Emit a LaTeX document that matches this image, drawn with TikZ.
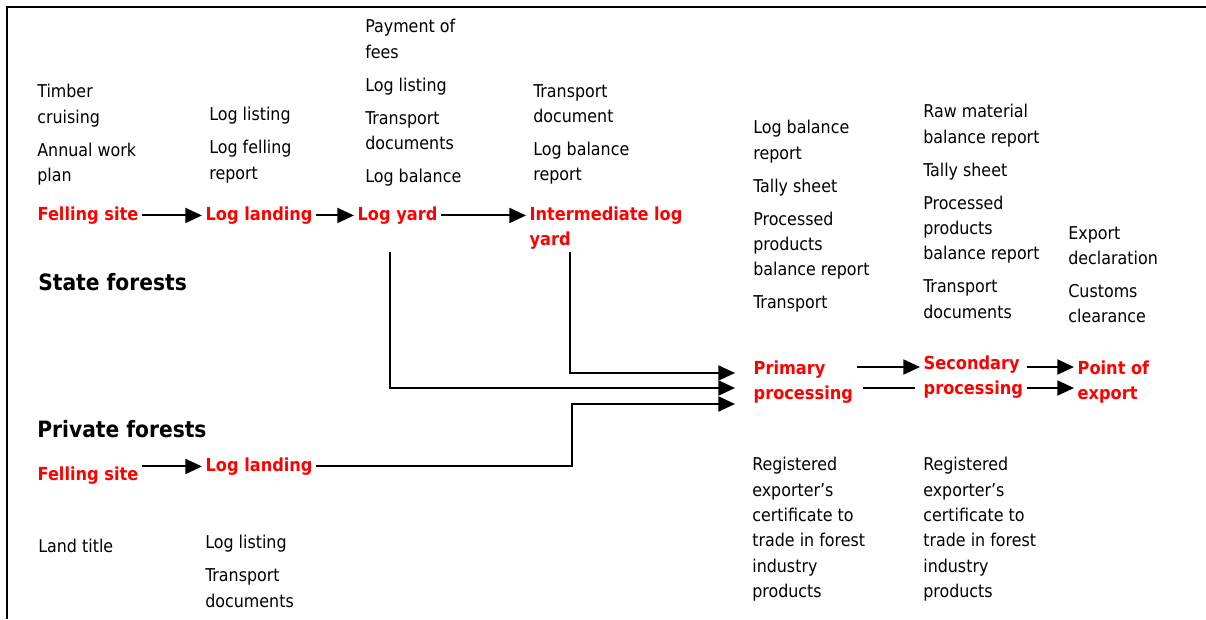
\documentclass[tikz,border=0pt]{standalone}
\usepackage{fontspec}
\setmainfont{DejaVu Sans Condensed}
\usetikzlibrary{arrows.meta}

\begin{document}
\begin{tikzpicture}[%
        x=0.6pt,y=-0.6pt,%
        doclist/.style={%
            anchor=north west,%
            inner sep=0pt,%
            align=left,%
            font=\fontsize{10.6}{15.2}\selectfont%
        },%
        stage/.style={%
            anchor=north west,%
            inner sep=2pt,%
            align=left,%
            text=red,%
            font=\fontsize{10.8}{15.3}\selectfont\bfseries%
        },%
        forest/.style={%
            anchor=north west,%
            inner sep=0pt,%
            font=\fontsize{13.5}{16}\selectfont\bfseries%
        },%
        flow/.style={%
            line width=1.2pt,%
            -{Triangle[length=10pt,width=9pt]}%
        }%
    ]
    \useasboundingbox (0,0) rectangle (1206,619);
    \draw [line width=1.3pt] (7,619) -- (7,7) -- (1206,7);

    % documents
    \node (timber)   at (  37, 84) [doclist]{Timber\\cruising\\[4.6pt]Annual work\\plan};
    \node (felling)  at ( 209,107) [doclist]{Log listing\\[4.6pt]Log felling\\report};
    \node (fees)     at ( 365, 19) [doclist]{Payment of\\fees\\[4.6pt]Log listing\\[4.6pt]Transport\\documents\\[4.6pt]Log balance};
    \node (transdoc) at ( 533, 84) [doclist]{Transport\\document\\[4.6pt]Log balance\\report};
    \node (primdoc)  at ( 753,120) [doclist]{Log balance\\report\\[4.6pt]Tally sheet\\[4.6pt]Processed\\products\\balance report\\[4.6pt]Transport};
    \node (secdoc)   at ( 923,104) [doclist]{Raw material\\balance report\\[4.6pt]Tally sheet\\[4.6pt]Processed\\products\\balance report\\[4.6pt]Transport\\documents};
    \node (expdoc)   at (1068,226) [doclist]{Export\\declaration\\[4.6pt]Customs\\clearance};
    \node (landtit)  at (  38,539) [doclist]{Land title};
    \node (privdoc)  at ( 205,535) [doclist]{Log listing\\[4.6pt]Transport\\documents};
    \node (primreg)  at ( 752,457) [doclist]{Registered\\exporter’s\\certificate to\\trade in forest\\industry\\products};
    \node (secreg)   at ( 923,457) [doclist]{Registered\\exporter’s\\certificate to\\trade in forest\\industry\\products};

    % forests
    \node (state)   at (38,273) [forest]{State forests};
    \node (private) at (37,420) [forest]{Private forests};

    % stages
    \node (fs1) at (  34,203) [stage]{Felling site};
    \node (ll1) at ( 202,203) [stage]{Log landing};
    \node (ly)  at ( 354,203) [stage]{Log yard};
    \node (iy)  at ( 526,203) [stage]{Intermediate log\\yard};
    \node (pp)  at ( 750,357) [stage]{Primary\\processing};
    \node (sp)  at ( 920,352) [stage]{Secondary\\processing};
    \node (pe)  at (1074,357) [stage]{Point of\\export};
    \node (fs2) at (  34,463) [stage]{Felling site};
    \node (ll2) at ( 202,454) [stage]{Log landing};

    \coordinate (lyfoot) at (390,252);
    \coordinate (iyfoot) at (570,252);
    \coordinate (pvbar)  at (572,404);
    \coordinate (in1)    at (735,373);
    \coordinate (in2)    at (735,388);
    \coordinate (in3)    at (735,404);
    \coordinate (uprow)  at (0,367);
    \coordinate (lowrow) at (0,388);

    % flows
    \draw [flow] (fs1) -- (ll1);
    \draw [flow] (ll1) -- (ly);
    \draw [flow] (ly.east) -- (ly.east -| iy.west);
    \draw [flow] (fs2.east |- ll2.west) -- (ll2.west);
    \draw [flow] (iyfoot) |- (in1);
    \draw [flow] (lyfoot) |- (in2);
    \draw [flow] (ll2.east) -| (pvbar) -- (in3);
    \draw [flow] (pp.east |- uprow) -- (sp.west |- uprow);
    \draw [line width=1.2pt,shorten <=4pt,shorten >=3pt] (pp.east |- lowrow) -- (sp.west |- lowrow);
    \draw [flow] (sp.east |- uprow) -- (pe.west |- uprow);
    \draw [flow] (sp.east |- lowrow) -- (pe.west |- lowrow);
\end{tikzpicture}
\end{document}
